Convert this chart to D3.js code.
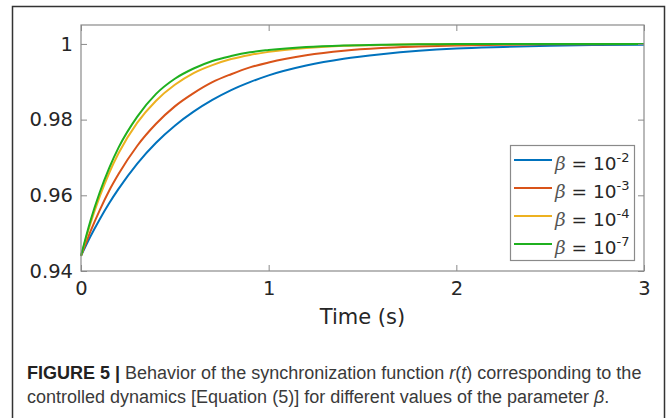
<!DOCTYPE html>
<html>
<head>
<meta charset="utf-8">
<script src="https://cdn.jsdelivr.net/npm/d3@7"></script>
<style>
  html, body { margin: 0; padding: 0; background: #fff; }
  svg { display: block; }
  .tick text { font-family: "DejaVu Sans", sans-serif; fill: #262626; }
</style>
</head>
<body>
<svg id="chart" width="670" height="418"></svg>
<script>
// time samples (s)
const TIMES = [0, 0.05, 0.1, 0.15, 0.2, 0.3, 0.4, 0.5, 0.6, 0.7, 0.8, 0.9, 1.0, 1.2, 1.4, 1.6, 1.8, 2.0, 2.25, 2.5, 2.75, 3.0];

// r(t), one array per beta
const R_BETA_2 = [0.9440, 0.9491, 0.9537, 0.9579, 0.9617, 0.9684, 0.9739, 0.9784, 0.9821, 0.9852, 0.9878, 0.9899, 0.9917, 0.9943, 0.9961, 0.9973, 0.9982, 0.9988, 0.9992, 0.9995, 0.9997, 0.9998];
const R_BETA_3 = [0.9440, 0.9504, 0.9561, 0.9612, 0.9656, 0.9731, 0.9789, 0.9835, 0.9870, 0.9899, 0.9920, 0.9938, 0.9951, 0.9970, 0.9982, 0.9989, 0.9993, 0.9996, 0.9998, 0.9999, 0.9999, 1.0000];
const R_BETA_4 = [0.9440, 0.9525, 0.9597, 0.9659, 0.9711, 0.9792, 0.9850, 0.9892, 0.9923, 0.9944, 0.9960, 0.9971, 0.9979, 0.9989, 0.9995, 0.9997, 0.9999, 0.9999, 1.0000, 1.0000, 1.0000, 1.0000];
const R_BETA_7 = [0.9440, 0.9532, 0.9608, 0.9672, 0.9726, 0.9808, 0.9868, 0.9908, 0.9935, 0.9955, 0.9968, 0.9978, 0.9984, 0.9992, 0.9996, 0.9998, 0.9999, 1.0000, 1.0000, 1.0000, 1.0000, 1.0000];

const SERIES_NAMES = ['-2', '-3', '-4', '-7'];
const SERIES_VALUES = [R_BETA_2, R_BETA_3, R_BETA_4, R_BETA_7];
const COLORS = ['#0072bd', '#d95319', '#edb120', '#1fb01f'];

const X_TICKS = [0, 1, 2, 3];
const Y_TICKS = [0.94, 0.96, 0.98, 1];

const CAPTION_LINE1 = 'Behavior of the synchronization function ';
const CAPTION_LINE2 = 'controlled dynamics [Equation (5)] for different values of the parameter ';

const svg = d3.select('#chart');
const margin = { left: 81, top: 25, right: 26, bottom: 147 };
const W = 670, H = 418;
const pw = W - margin.left - margin.right;
const ph = H - margin.top - margin.bottom;

// outer frame of the figure panel
svg.append('rect')
  .attr('x', 12.5).attr('y', 6.5)
  .attr('width', 652).attr('height', 440)
  .attr('fill', 'none')
  .attr('stroke', '#333').attr('stroke-width', 1.5);

const x = d3.scaleLinear().domain([0, 3]).range([0, pw]);
const y = d3.scaleLinear().domain([0.94, 1.005]).range([ph, 0]);

const g = svg.append('g').attr('transform', `translate(${margin.left},${margin.top})`);

// lines
const line = d3.line()
  .x((d, i) => x(TIMES[i]))
  .y(d => y(d))
  .curve(d3.curveMonotoneX);

SERIES_VALUES.forEach((vals, k) => {
  g.append('path')
    .datum(vals)
    .attr('d', line)
    .attr('fill', 'none')
    .attr('stroke', COLORS[k])
    .attr('stroke-width', 2);
});

// axes with inward ticks on all four sides
const axisColor = '#8a8a8a';
const fmtY = d => d === 1 ? '1' : d3.format('.2f')(d);

const xb = g.append('g').attr('transform', `translate(0,${ph})`)
  .call(d3.axisBottom(x).tickValues(X_TICKS).tickFormat(d3.format('d')).tickSizeInner(-6).tickSizeOuter(0).tickPadding(10));
const xt = g.append('g')
  .call(d3.axisTop(x).tickValues(X_TICKS).tickFormat('').tickSizeInner(-6).tickSizeOuter(0));
const yl = g.append('g')
  .call(d3.axisLeft(y).tickValues(Y_TICKS).tickFormat(fmtY).tickSizeInner(-6).tickSizeOuter(0).tickPadding(8));
const yr = g.append('g').attr('transform', `translate(${pw},0)`)
  .call(d3.axisRight(y).tickValues(Y_TICKS).tickFormat('').tickSizeInner(-6).tickSizeOuter(0));

[xb, xt, yl, yr].forEach(a => {
  a.selectAll('.domain').remove();
  a.selectAll('line').attr('stroke', axisColor);
});
xb.selectAll('text').attr('font-size', 19.5).attr('dy', '0.71em');
yl.selectAll('text').attr('font-size', 19.5);

g.append('rect')
  .attr('x', 0).attr('y', 0).attr('width', pw).attr('height', ph)
  .attr('fill', 'none').attr('stroke', axisColor).attr('stroke-width', 1.2);

// x-axis label
svg.append('text')
  .attr('x', margin.left + pw / 2).attr('y', 324)
  .attr('text-anchor', 'middle')
  .attr('font-family', 'DejaVu Sans, sans-serif')
  .attr('font-size', 21)
  .attr('fill', '#262626')
  .text('Time (s)');

// legend
const lg = svg.append('g').attr('transform', 'translate(510,145)');
lg.append('rect')
  .attr('x', 0.5).attr('y', 0.5).attr('width', 124).attr('height', 115)
  .attr('fill', '#fff').attr('stroke', axisColor).attr('stroke-width', 1.2);

SERIES_NAMES.forEach((nm, k) => {
  const cy = 15 + k * 28;
  lg.append('line')
    .attr('x1', 4).attr('x2', 42).attr('y1', cy).attr('y2', cy)
    .attr('stroke', COLORS[k]).attr('stroke-width', 2);
  const t = lg.append('text')
    .attr('x', 45).attr('y', cy + 10)
    .attr('font-family', 'DejaVu Sans, sans-serif')
    .attr('font-size', 18.5)
    .attr('fill', '#262626');
  t.append('tspan').attr('font-family', 'DejaVu Serif, serif').attr('font-style', 'italic').attr('fill', '#555').text('β');
  t.append('tspan').text(' = 10');
  t.append('tspan').attr('font-size', 13).attr('dy', -8).text(nm);
});

// caption
const cap = svg.append('g')
  .attr('font-family', 'Liberation Sans, Arial, sans-serif')
  .attr('font-size', 18)
  .attr('fill', '#3a3a3a');

const l1 = cap.append('text').attr('x', 27).attr('y', 379);
l1.append('tspan').attr('font-weight', 'bold').attr('fill', '#222').text('FIGURE 5 | ');
l1.append('tspan').text(CAPTION_LINE1);
l1.append('tspan').attr('font-style', 'italic').text('r');
l1.append('tspan').text('(');
l1.append('tspan').attr('font-style', 'italic').text('t');
l1.append('tspan').text(') corresponding to the');

const l2 = cap.append('text').attr('x', 27).attr('y', 403);
l2.append('tspan').text(CAPTION_LINE2);
l2.append('tspan').attr('font-style', 'italic').text('β');
l2.append('tspan').text('.');
</script>
</body>
</html>
